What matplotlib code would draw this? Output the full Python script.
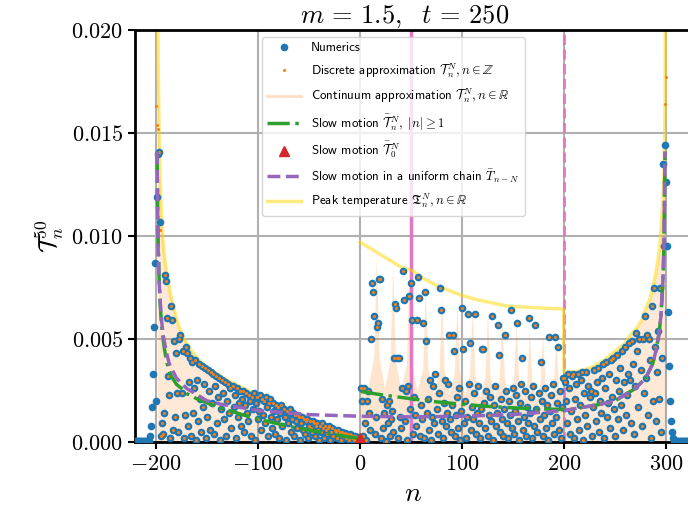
import numpy as np
import matplotlib
matplotlib.use('Agg')
import matplotlib.pyplot as plt
from matplotlib.lines import Line2D
from matplotlib.ticker import FuncFormatter

plt.rcParams['mathtext.fontset'] = 'cm'
plt.rcParams['font.family'] = 'DejaVu Sans'

SCALE = 1e-4  # temperatures below are written in units of 1e-4

# ---- numerics, one value per site n ----
num_tail_left = [0.3, 0.3, 0.3, 0.3, 0.3, 0.3, 0.3, 0.3, 0.3, 0.3, 0.3, 0.3, 0.3, 0.3,
                 0.5, 3, 8, 17, 33, 56, 87]                       # n = -221 .. -201
num_front_left = [20, 119, 140, 141, 107]                          # n = -200 .. -196
num_left = [3, 9, 4, 14, 81, 78, 60, 32, 23, 2,                    # n = -195 .. 0
            66, 59, 6, 49, 12, 43, 24, 5, 50, 52,
            24, 44, 2, 13, 46, 43, 8, 29, 41, 3,
            39, 14, 26, 40, 1, 30, 10, 38, 21, 5,
            37, 17, 28, 36, 2, 12, 35, 25, 6, 34,
            19, 33, 4, 27, 32, 9, 22, 31, 1, 16,
            30, 24, 11, 29, 3, 20, 28, 14, 26, 7,
            27, 17, 23, 2, 26, 12, 19, 25, 8, 21,
            25, 5, 18, 24, 14, 10, 23, 20, 3, 22,
            16, 24, 1, 19, 22, 11, 15, 23, 6, 21,
            13, 20, 9, 22, 17, 3, 19, 21, 12, 7,
            19, 15, 4, 18, 11, 17, 2, 14, 18, 8,
            16, 12, 1, 15, 9, 14, 16, 5, 11, 14,
            3, 13, 10, 7, 13, 12, 1, 9, 12, 6,
            11, 4, 10, 11, 2, 8, 10, 7, 5, 10,
            9, 3, 8, 9, 6, 1, 8, 5, 9, 7,
            2, 8, 6, 4, 7, 8, 1, 5, 7, 3,
            6, 5, 2, 6, 4, 5, 1, 5, 3, 4,
            4.5, 2, 4, 3, 1, 4, 3.5, 2, 3, 1,
            3, 2.5, 1, 2.5, 2,
            2]
num_mid = [26, 20, 3, 26, 9, 1, 20, 25, 14, 6,                     # n = 1 .. 199
           50, 77, 73, 61, 4, 12, 56, 58, 79, 79,
           2, 21, 7, 14, 0.5, 18, 9, 20, 3, 11,
           15, 5, 41, 67, 65, 41, 2, 41, 12, 7,
           26, 83, 69, 10, 25, 1, 27, 71, 16, 77,
           59, 4, 22, 13, 8, 59, 80, 70, 3, 18,
           11, 58, 2, 73, 49, 14, 21, 6, 30, 1,
           12, 27, 9, 33, 16, 4, 24, 75, 64, 10,
           2, 19, 30, 8, 14, 28, 52, 11, 5, 18,
           52, 44, 3, 13, 22, 7, 26, 1, 15, 65,
           45, 9, 20, 2, 12, 62, 28, 48, 6, 17,
           11, 24, 62, 4, 14, 27, 9, 2, 16, 45,
           45, 19, 7, 25, 3, 13, 22, 10, 61, 1,
           18, 27, 8, 14, 57, 42, 5, 21, 11, 3,
           16, 52, 25, 9, 2, 20, 13, 64, 7, 26,
           4, 15, 23, 58, 10, 1, 19, 28, 41, 6,
           12, 25, 3, 17, 9, 60, 14, 22, 2, 27,
           8, 57, 16, 5, 24, 11, 39, 20, 3, 13,
           26, 7, 18, 1, 51, 15, 23, 9, 28, 4,
           51, 12, 19, 46, 6, 25, 2, 17, 31]
num_right = [31, 29, 20, 9, 33, 26, 4, 15, 32, 33,                 # n = 200 .. 289
             2, 21, 28, 11, 33, 6, 18, 30, 34, 1,
             24, 13, 34, 8, 27, 22, 25, 3, 17, 35,
             24, 10, 29, 36, 5, 20, 14, 31, 38, 2,
             26, 39, 12, 19, 33, 7, 40, 22, 41, 16,
             3, 30, 42, 11, 25, 36, 18, 44, 6, 29,
             46, 13, 23, 33, 48, 30, 9, 49, 38, 4,
             27, 53, 44, 17, 50, 35, 8, 50, 24, 61,
             31, 52, 13, 50, 40, 2, 66, 20, 75, 46]
num_front_right = [10, 34, 54, 21, 75, 5, 41, 135, 95, 144,        # n = 290 .. 307
                   126, 95, 63, 37, 20, 10, 5, 2]
num_tail_right = [0.3, 0.3, 0.3, 0.3, 0.3, 0.3, 0.3, 0.3, 0.3,     # n = 308 .. 325
                  0.3, 0.3, 0.3, 0.3, 0.3, 0.3, 0.3, 0.3, 0.3]

# discrete approximation differs from the numerics only next to the fronts
disc_front_left = [163, 154, 152, 141, 103]      # n = -200 .. -196
disc_front_right = [41, 92, 133, 164, 177]       # n = 296 .. 300

# ---- continuum approximation between n = 0 and n = 200 ----
cont_mid_n = [0, 8, 13.5, 16, 18.5, 24, 29.5, 32, 34.5, 40, 45.5, 48, 50.5, 56, 61.5,
              64, 66.5, 72, 77.5, 80, 82.5, 87.5, 92.5, 95, 97.5, 102.5, 107.5, 110,
              112.5, 117.5, 122.5, 125, 127.5, 132, 136.5, 139, 141.5, 146, 150.5,
              153, 155.5, 159.5, 163.5, 166, 168.5, 172.5, 176.5, 179, 181.5, 185.5,
              189.5, 192, 194.5, 199.5]
cont_mid_T = [27, 27, 42, 91, 42, 26, 40, 87, 40, 25, 38, 81, 38, 25, 36, 75, 36, 24,
              35, 72, 35, 23, 34, 68, 34, 23, 33, 66, 33, 22, 32, 63, 32, 22, 31, 61,
              31, 21, 30, 58, 30, 21, 29, 55, 29, 20, 28, 52, 28, 20, 27, 49, 27, 20]

# ---- peak temperature ----
peak_left_n = [-198.6, -198, -197, -196, -195, -194, -193, -191, -189, -186, -183, -180,
               -176, -170, -165, -160, -150, -140, -130, -118, -108, -100, -90, -80,
               -72, -60, -50, -40, -32, -20, -10, 0]
peak_left_T = [215, 190, 150, 128, 114, 104, 96, 87, 81, 72, 66, 60,
               54, 48, 44, 41, 36, 33, 30, 27, 24.5, 23, 20.5, 18,
               16, 13.5, 11.5, 9.5, 7.5, 5, 3.5, 2]
peak_mid_n = [0, 10, 20, 30, 40, 52, 60, 75, 90, 101, 115, 130, 144, 160, 180, 199.5]
peak_mid_T = [97, 94, 91, 88, 85, 83, 80, 76, 73, 71, 69, 67.5, 66, 65.5, 65, 64.5]
peak_right_n = [200, 210, 220, 230, 240, 250, 260, 265, 271, 276, 281, 284, 287,
                290, 292, 294, 296, 297, 298, 299, 299.6]
peak_right_T = [34, 34, 35, 37, 40, 44, 48, 52, 55, 59, 66, 69, 75,
                82, 88, 95, 110, 118, 130, 160, 230]

# ---- slow motion ----
slow_left_n = [-199, -198.5, -198, -197, -196, -195, -194, -192, -190, -188, -185,
               -180, -175, -170, -160, -150, -140, -130, -120, -110, -100, -90, -80,
               -70, -60, -50, -40, -30, -20, -10, -1]
slow_left_T = [141, 118, 100, 80, 68, 60, 54, 46, 40, 36, 32,
               28, 26, 23.5, 21, 19, 17, 15.5, 14, 12.5, 11.2, 10, 8.8,
               7.7, 6.7, 5.8, 4.9, 4.0, 3.2, 2.4, 1.8]
slow_right_n = [1, 20, 50, 75, 100, 125, 150, 175, 199, 200, 237, 250, 270, 280, 287,
                290, 293, 295, 297, 298, 299]
slow_right_T = [24.5, 23, 21, 19.5, 18.3, 17.3, 16.6, 16.1, 15.8, 15.3, 18.4, 20, 26,
                31, 38, 44, 52, 61, 78, 95, 141]
slow_zero_n = [0]
slow_zero_T = [2]

uniform_n = [-199, -198, -197, -195, -193, -190, -187, -180, -170, -150, -137, -100,
             -50, 0, 50, 100, 150, 200, 237, 250, 270, 280, 287, 290, 293, 295, 297,
             298, 299]
uniform_T = [141, 95, 78, 61, 52, 44, 38, 31, 26, 20, 18.4, 15.3,
             13.3, 12.5, 12.2, 12.5, 13.3, 15.3, 18.4, 20, 26, 31, 38, 44, 52, 61, 78,
             95, 141]

marker_solid_n = 50
marker_dashed_n = 200

# ---- assemble ----
n_num = np.arange(-221, 326)
T_num = np.array(num_tail_left + num_front_left + num_left + num_mid + num_right
                 + num_front_right + num_tail_right) * SCALE

n_disc = np.arange(-200, 301)
T_disc = T_num[(n_num >= -200) & (n_num <= 300)].copy()
T_disc[:5] = np.array(disc_front_left) * SCALE
T_disc[-5:] = np.array(disc_front_right) * SCALE

def sc(v):
    return np.array(v) * SCALE

fig = plt.figure(figsize=(6.88, 5.12), dpi=100)
ax = fig.add_axes([135 / 688, 70 / 512, (691.5 - 135) / 688, 412 / 512])

ax.fill_between(peak_left_n, 0, sc(peak_left_T), color='C1', alpha=0.17, lw=0, zorder=1)
ax.fill_between(cont_mid_n, 0, sc(cont_mid_T), color='C1', alpha=0.2, lw=0, zorder=1)
ax.fill_between(peak_right_n, 0, sc(peak_right_T), color='C1', alpha=0.17, lw=0, zorder=1)

ax.axvline(marker_solid_n, color='C6', lw=2.5, zorder=1.5)
ax.axvline(marker_dashed_n, color='C6', lw=2, ls='--', zorder=1.5)

yl = dict(color='gold', alpha=0.5, lw=2.5, zorder=2)
h_peak, = ax.plot(peak_left_n, sc(peak_left_T), **yl)
ax.plot(peak_mid_n + peak_right_n, sc(peak_mid_T + peak_right_T), **yl)

h_num, = ax.plot(n_num, T_num, 'o', color='C0', ms=5.5, mew=0, zorder=3)
h_disc, = ax.plot(n_disc, T_disc, 'o', color='C1', ms=2.2, mew=0, zorder=4)

gl = dict(color='C2', lw=2.5, ls='-.', zorder=5)
h_slow, = ax.plot(slow_left_n, sc(slow_left_T), **gl)
ax.plot(slow_right_n, sc(slow_right_T), **gl)
h_zero, = ax.plot(slow_zero_n, sc(slow_zero_T), '^', color='C3', ms=7, zorder=6)
h_unif, = ax.plot(uniform_n, sc(uniform_T), color='C4', lw=2.5, ls='--', zorder=5)

h_cont = Line2D([], [], color='C1', alpha=0.25, lw=2)

ax.set_xlim(-220.6, 325)
ax.set_ylim(0, 0.02)
ax.set_xticks([-200, -100, 0, 100, 200, 300])
ax.set_yticks([0, 0.005, 0.01, 0.015, 0.02])
ax.xaxis.set_major_formatter(FuncFormatter(lambda v, p: r'$%d$' % round(v)))
ax.yaxis.set_major_formatter(FuncFormatter(lambda v, p: r'$%.3f$' % v))
ax.tick_params(labelsize=16, width=1.5, length=5)
for s in ax.spines.values():
    s.set_linewidth(2)
ax.grid(True, color='#b0b0b0', lw=1.5)
ax.set_axisbelow(True)

ax.set_title(r'$m\,=\,1.5,\ \ t\,=\,250$', fontsize=19, pad=5, x=(405 - 135) / 556.5)
ax.set_xlabel(r'$n$', fontsize=20)
ax.set_ylabel(r'$\mathcal{T}_n^{50}$', fontsize=18)

handles = [h_num, h_disc, h_cont, h_slow, h_zero, h_unif, h_peak]
labels = ['Numerics',
          r'Discrete approximation $\mathcal{T}_n^N, n\in\mathbb{Z}$',
          r'Continuum approximation $\mathcal{T}_n^N, n\in\mathbb{R}$',
          r'Slow motion $\bar{\mathcal{T}}_n^N,\ |n|\geq 1$',
          r'Slow motion $\bar{\mathcal{T}}_0^N$',
          r'Slow motion in a uniform chain $\bar{T}_{n-N}$',
          r'Peak temperature $\mathfrak{T}_n^N, n\in\mathbb{R}$']
ax.legend(handles, labels, loc='upper left', bbox_to_anchor=(262 / 688, 1 - 37 / 512),
          bbox_transform=fig.transFigure, borderaxespad=0, framealpha=0.8,
          prop={'family': 'cmss10', 'size': 9.3}, handlelength=2.6, labelspacing=0.55)

fig.savefig('out.png', dpi=100)
